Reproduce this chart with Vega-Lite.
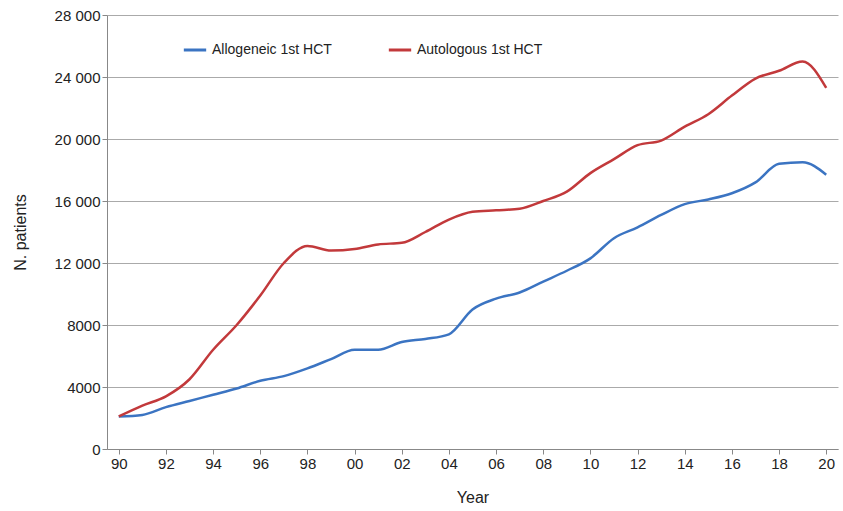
{
  "$schema": "https://vega.github.io/schema/vega-lite/v6.json",
  "width": 843,
  "height": 511,
  "autosize": {"type": "fit", "contains": "padding"},
  "padding": {"left": 12, "right": 5, "top": 8, "bottom": 6},
  "config": {"view": {"stroke": null}, "font": "Liberation Sans"},
  "data": {"values": [
    {"year":1990,"a":2100,"b":2100},{"year":1991,"a":2200,"b":2800},{"year":1992,"a":2700,"b":3400},
    {"year":1993,"a":3100,"b":4500},{"year":1994,"a":3500,"b":6400},{"year":1995,"a":3900,"b":8000},
    {"year":1996,"a":4400,"b":9900},{"year":1997,"a":4700,"b":12000},{"year":1998,"a":5200,"b":13100},
    {"year":1999,"a":5800,"b":12800},{"year":2000,"a":6400,"b":12900},{"year":2001,"a":6400,"b":13200},
    {"year":2002,"a":6900,"b":13300},{"year":2003,"a":7100,"b":14000},{"year":2004,"a":7400,"b":14800},
    {"year":2005,"a":9000,"b":15300},{"year":2006,"a":9700,"b":15400},{"year":2007,"a":10100,"b":15500},
    {"year":2008,"a":10800,"b":16000},{"year":2009,"a":11500,"b":16600},{"year":2010,"a":12300,"b":17800},
    {"year":2011,"a":13600,"b":18700},{"year":2012,"a":14300,"b":19600},{"year":2013,"a":15100,"b":19900},
    {"year":2014,"a":15800,"b":20800},{"year":2015,"a":16100,"b":21600},{"year":2016,"a":16500,"b":22800},
    {"year":2017,"a":17200,"b":23900},{"year":2018,"a":18400,"b":24400},{"year":2019,"a":18500,"b":25000},
    {"year":2020,"a":17700,"b":23300}
  ]},
  "transform": [
    {"fold": ["a", "b"], "as": ["key", "value"]},
    {"calculate": "datum.key == 'a' ? 'Allogeneic 1st HCT' : 'Autologous 1st HCT'", "as": "series"}
  ],
  "mark": {"type": "line", "interpolate": "monotone", "strokeWidth": 2.5},
  "encoding": {
    "x": {"field": "year", "type": "quantitative",
      "scale": {"domain": [1989.5, 2020.5], "nice": false, "zero": false},
      "axis": {"values": [1990,1992,1994,1996,1998,2000,2002,2004,2006,2008,2010,2012,2014,2016,2018,2020],
        "labelExpr": "slice('0' + (datum.value % 100), -2)", "grid": false, "title": "Year", "titlePadding": 18,
        "labelFontSize": 15, "titleFontSize": 16, "titleFontWeight": "normal", "domainColor": "#888", "tickColor": "#888", "labelColor": "#222", "titleColor": "#222"}},
    "y": {"field": "value", "type": "quantitative",
      "scale": {"domain": [0, 28000], "nice": false},
      "axis": {"values": [0,4000,8000,12000,16000,20000,24000,28000],
        "labelExpr": "datum.value >= 10000 ? replace(format(datum.value, ','), ',', ' ') : format(datum.value, 'd')",
        "title": "N. patients", "titlePadding": 26, "labelFontSize": 15, "titleFontSize": 16, "titleFontWeight": "normal",
        "gridColor": "#aaa", "domainColor": "#888", "tickColor": "#888", "labelColor": "#222", "titleColor": "#222"}},
    "color": {"field": "series", "type": "nominal",
      "scale": {"domain": ["Allogeneic 1st HCT", "Autologous 1st HCT"], "range": ["#3b74c2", "#c2393b"]},
      "legend": {"orient": "none", "legendX": 75, "legendY": 22, "direction": "horizontal", "title": null,
        "symbolType": "stroke", "symbolStrokeWidth": 3, "symbolSize": 500, "labelFontSize": 14, "columnPadding": 50, "labelColor": "#222"}}
  }
}
